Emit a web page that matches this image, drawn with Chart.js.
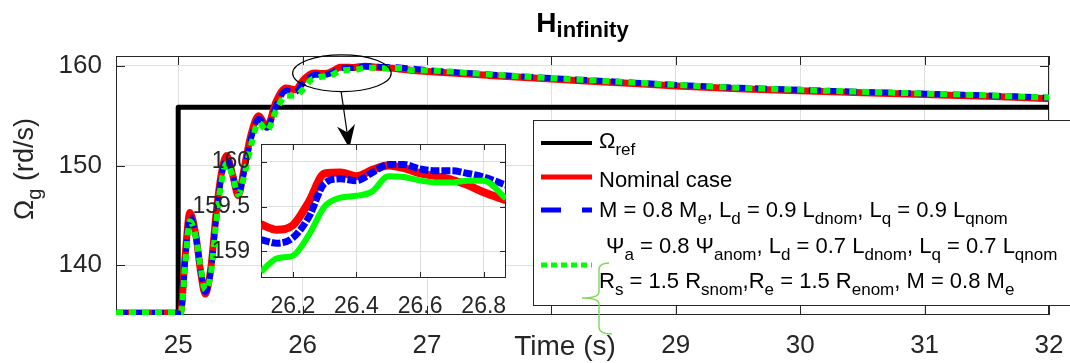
<!DOCTYPE html>
<html>
<head>
<meta charset="utf-8">
<script src="https://cdn.jsdelivr.net/npm/chart.js@4.4.0/dist/chart.umd.min.js"></script>
<style>
  html, body { margin: 0; padding: 0; background: #fff; }
  #wrap { position: relative; width: 1070px; height: 363px; overflow: hidden; }
  #main { position: absolute; left: 0; top: 0; }
  #zoom { position: absolute; left: 190px; top: 130px; }
</style>
</head>
<body>
<div id="wrap">
  <canvas id="main" width="1070" height="363"></canvas>
  <canvas id="zoom" width="330" height="190"></canvas>
</div>
<script>
const FONT = '"Liberation Sans", Arial, Helvetica, sans-serif';

// ---- values ----
const xTicks = [25, 26, 27, 28, 29, 30, 31, 32];
const yTicks = [140, 150, 160];
const zoomXTicks = [26.2, 26.4, 26.6, 26.8];
const zoomYTicks = [159, 159.5, 160];

// speed reference, step at t = 25 s
const refTime = [24.5, 25, 25, 32];
const refSpeed = [135.2, 135.2, 155.85, 155.85];

// start-up transient
const riseTime = [24.5, 25.0, 25.022, 25.056, 25.094, 25.142, 25.182, 25.217, 25.263, 25.303, 25.344, 25.389,
  25.437, 25.483, 25.531, 25.585, 25.647, 25.714, 25.786, 25.867, 25.942, 26.0, 26.067];
const nominalRise = [135.2, 135.2, 135.4, 141.0, 145.3, 143.0, 139.2, 137.1, 139.8, 145.0, 149.0, 151.0,
  149.1, 147.0, 149.8, 153.1, 155.0, 153.9, 156.4, 157.8, 157.6, 158.5, 159.2];
const case1Rise = [135.2, 135.2, 135.3, 140.6, 144.9, 142.9, 139.4, 137.3, 139.5, 144.6, 148.7, 150.7,
  149.1, 147.1, 149.5, 152.7, 154.7, 153.8, 156.0, 157.5, 157.4, 158.2, 158.95];
const case2Rise = [135.2, 135.2, 135.2, 140.0, 144.4, 142.8, 139.6, 137.5, 139.2, 144.0, 148.1, 150.2,
  149.0, 147.1, 149.0, 152.0, 154.3, 153.5, 155.5, 157.0, 157.0, 157.6, 158.6];

// plateau, as seen in the zoomed inset
const zoomTime = [26.1, 26.15, 26.2, 26.25, 26.3, 26.35, 26.4, 26.45, 26.5, 26.55, 26.6, 26.65, 26.7, 26.75, 26.8, 26.87];
const nominalZoom = [159.30, 159.24, 159.29, 159.55, 159.87, 159.88, 159.84, 159.91, 159.96, 159.93, 159.87, 159.84, 159.80, 159.74, 159.66, 159.57];
const case1Zoom = [159.13, 159.09, 159.15, 159.38, 159.76, 159.81, 159.79, 159.88, 159.97, 159.97, 159.92, 159.90, 159.90, 159.87, 159.83, 159.74];
const case2Zoom = [158.77, 158.92, 158.95, 159.18, 159.50, 159.60, 159.62, 159.67, 159.84, 159.83, 159.79, 159.77, 159.77, 159.79, 159.79, 159.59];

// slow decay afterwards
const tailTime = [27, 27.5, 28, 28.5, 29, 29.5, 30, 30.5, 31, 31.5, 32];
const nominalTail = [159.45, 159.05, 158.68, 158.35, 158.0, 157.72, 157.5, 157.3, 157.13, 156.95, 156.72];
const case1Tail = [159.58, 159.15, 158.78, 158.44, 158.1, 157.82, 157.6, 157.4, 157.22, 157.04, 156.82];
const case2Tail = [159.55, 159.14, 158.77, 158.44, 158.1, 157.82, 157.6, 157.4, 157.23, 157.05, 156.83];

const titleText = 'H_{infinity}';
const yLabel = 'Ω_{g} (rd/s)';
const xLabel = 'Time (s)';
const legendLabels = [
  'Ω_{ref}',
  'Nominal case',
  'M = 0.8 M_{e}, L_{d} = 0.9 L_{dnom}, L_{q} = 0.9 L_{qnom}',
  'Ψ_{a} = 0.8 Ψ_{anom}, L_{d} = 0.7 L_{dnom}, L_{q} = 0.7 L_{qnom}',
  'R_{s} = 1.5 R_{snom},R_{e} = 1.5 R_{enom}, M = 0.8 M_{e}'
];

function pts(t, v) { return t.map((x, i) => ({ x: x, y: v[i] })); }

// text with _{...} subscripts
function richParts(str) {
  const parts = [];
  const re = /_\{([^}]*)\}/g;
  let last = 0, m;
  while ((m = re.exec(str))) {
    if (m.index > last) parts.push({ t: str.slice(last, m.index), sub: false });
    parts.push({ t: m[1], sub: true });
    last = re.lastIndex;
  }
  if (last < str.length) parts.push({ t: str.slice(last), sub: false });
  return parts;
}
function drawRich(ctx, str, x, y, size, o) {
  o = o || {};
  const subSize = Math.round(size * (o.subScale || 0.75));
  const drop = o.drop != null ? o.drop : size * 0.3;
  const w = o.bold ? 'bold ' : '';
  let cx = x;
  for (const p of richParts(str)) {
    ctx.font = w + (p.sub ? subSize : size) + 'px ' + FONT;
    if (!o.measure) ctx.fillText(p.t, cx, p.sub ? y + drop : y);
    cx += ctx.measureText(p.t).width;
  }
  return cx - x;
}

// keep the plot box where we put it, labels may overhang
function fixSize(prop, val) {
  return s => {
    s[prop] = val;
    s.paddingLeft = s.paddingRight = s.paddingTop = s.paddingBottom = 0;
  };
}

// matlab-like box with inward ticks
function framePlugin(tickLen, whiteArea) {
  return {
    id: 'frame',
    beforeDraw(chart) {
      if (!whiteArea) return;
      const a = chart.chartArea, ctx = chart.ctx;
      ctx.save();
      ctx.fillStyle = '#fff';
      ctx.fillRect(a.left, a.top, a.right - a.left, a.bottom - a.top);
      ctx.restore();
    },
    beforeDatasetsDraw(chart) {
      const { ctx, chartArea: a, scales: { x, y } } = chart;
      ctx.save();
      ctx.strokeStyle = '#262626';
      ctx.lineWidth = 1;
      ctx.strokeRect(a.left + 0.5, a.top + 0.5, a.right - a.left - 1, a.bottom - a.top - 1);
      ctx.beginPath();
      x.ticks.forEach(t => {
        const px = Math.round(x.getPixelForValue(t.value)) + 0.5;
        ctx.moveTo(px, a.bottom); ctx.lineTo(px, a.bottom - tickLen);
        ctx.moveTo(px, a.top); ctx.lineTo(px, a.top + tickLen);
      });
      y.ticks.forEach(t => {
        const py = Math.round(y.getPixelForValue(t.value)) + 0.5;
        ctx.moveTo(a.left, py); ctx.lineTo(a.left + tickLen, py);
        ctx.moveTo(a.right, py); ctx.lineTo(a.right - tickLen, py);
      });
      ctx.stroke();
      ctx.restore();
    }
  };
}

const overlay = {
  id: 'overlay',
  afterDraw(chart) {
    const { ctx, chartArea: a, scales: { x, y } } = chart;
    const ds = chart.data.datasets;
    ctx.save();
    ctx.fillStyle = '#000';
    ctx.textBaseline = 'alphabetic';
    ctx.textAlign = 'left';

    // title
    const tw = drawRich(ctx, titleText, 0, 0, 28, { bold: true, measure: true, subScale: 0.78 });
    drawRich(ctx, titleText, (a.left + a.right) / 2 - tw / 2, 32, 28, { bold: true, subScale: 0.78, drop: 5 });

    // axis labels
    ctx.fillStyle = '#262626';
    ctx.save();
    ctx.translate(33, 169);
    ctx.rotate(-Math.PI / 2);
    const yw = drawRich(ctx, yLabel, 0, 0, 27, { measure: true });
    drawRich(ctx, yLabel, -yw / 2, 0, 27);
    ctx.restore();
    ctx.font = '28px ' + FONT;
    ctx.textAlign = 'center';
    ctx.fillText(xLabel, 565, 355);
    ctx.textAlign = 'left';

    // zoom ellipse + arrow
    const ex = x.getPixelForValue(26.316), ey = y.getPixelForValue(159.27);
    const rx = x.getPixelForValue(26.316 + 0.396) - ex, ry = y.getPixelForValue(159.27 - 1.84) - ey;
    ctx.strokeStyle = '#000';
    ctx.lineWidth = 1.2;
    ctx.beginPath();
    ctx.ellipse(ex, ey, rx, ry, 0, 0, Math.PI * 2);
    ctx.stroke();
    const sx = x.getPixelForValue(26.31), sy = y.getPixelForValue(157.4);
    const tx = x.getPixelForValue(26.376), ty = y.getPixelForValue(151.75);
    const ang = Math.atan2(ty - sy, tx - sx);
    ctx.beginPath();
    ctx.moveTo(sx, sy);
    ctx.lineTo(tx - 12 * Math.cos(ang), ty - 12 * Math.sin(ang));
    ctx.stroke();
    ctx.fillStyle = '#000';
    ctx.beginPath();
    ctx.moveTo(tx, ty);
    ctx.lineTo(tx - 23 * Math.cos(ang) + 9 * Math.sin(ang), ty - 23 * Math.sin(ang) - 9 * Math.cos(ang));
    ctx.lineTo(tx - 16 * Math.cos(ang), ty - 16 * Math.sin(ang));
    ctx.lineTo(tx - 23 * Math.cos(ang) - 9 * Math.sin(ang), ty - 23 * Math.sin(ang) + 9 * Math.cos(ang));
    ctx.closePath();
    ctx.fill();

    // legend
    const L = { x: 533, y: 120, w: 545, h: 185 };
    ctx.fillStyle = '#fff';
    ctx.fillRect(L.x, L.y, L.w, L.h);
    ctx.strokeStyle = '#262626';
    ctx.lineWidth = 1;
    ctx.strokeRect(L.x + 0.5, L.y + 0.5, L.w, L.h);

    const sampleY = [143, 177, 210, 265];
    const sampleW = [4, 5, 5, 5];
    const sampleDash = [[], [], [20, 21], [6, 4]];
    const entryDs = [3, 2, 1, 0]; // ref, nominal, case1, case2
    entryDs.forEach((di, i) => {
      ctx.save();
      ctx.strokeStyle = ds[di].borderColor;
      ctx.lineWidth = sampleW[i];
      ctx.setLineDash(sampleDash[i]);
      ctx.beginPath();
      ctx.moveTo(541, sampleY[i]);
      ctx.lineTo(592, sampleY[i]);
      ctx.stroke();
      ctx.restore();
    });
    const textX = [599, 599, 599, 606, 599];
    const textY = [148, 187, 217, 253, 288];
    ctx.fillStyle = '#000';
    legendLabels.forEach((lab, i) => drawRich(ctx, lab, textX[i], textY[i], 22, { subScale: 0.75, drop: 7 }));

    // brace grouping the two lines of the last entry
    ctx.strokeStyle = '#7ed957';
    ctx.lineWidth = 1.4;
    ctx.beginPath();
    ctx.moveTo(609, 263);
    ctx.quadraticCurveTo(599, 263, 599, 270);
    ctx.lineTo(599, 292);
    ctx.quadraticCurveTo(599, 298, 582, 298);
    ctx.quadraticCurveTo(599, 298, 599, 304);
    ctx.lineTo(599, 327);
    ctx.quadraticCurveTo(599, 334, 612, 334);
    ctx.stroke();

    ctx.restore();
  }
};

const tickFont = { family: FONT, size: 26 };

new Chart(document.getElementById('main'), {
  type: 'line',
  data: {
    datasets: [
      { data: pts(riseTime.concat(zoomTime, tailTime), case2Rise.concat(case2Zoom, case2Tail)),
        borderColor: '#00ff00', borderWidth: 6, borderDash: [7, 6], cubicInterpolationMode: 'monotone' },
      { data: pts(riseTime.concat(zoomTime, tailTime), case1Rise.concat(case1Zoom, case1Tail)),
        borderColor: '#0000ff', borderWidth: 6, borderDash: [12, 6], cubicInterpolationMode: 'monotone' },
      { data: pts(riseTime.concat(zoomTime, tailTime), nominalRise.concat(nominalZoom, nominalTail)),
        borderColor: '#ff0000', borderWidth: 7, cubicInterpolationMode: 'monotone' },
      { data: pts(refTime, refSpeed), borderColor: '#000000', borderWidth: 5, tension: 0 }
    ]
  },
  options: {
    responsive: false,
    animation: false,
    devicePixelRatio: 1,
    layout: { padding: { left: 0, right: 21, top: 56, bottom: 0 } },
    elements: { point: { radius: 0 }, line: { borderJoinStyle: 'round' } },
    plugins: { legend: { display: false }, tooltip: { enabled: false } },
    scales: {
      x: {
        type: 'linear', min: 24.5, max: 32,
        afterBuildTicks: s => { s.ticks = xTicks.map(v => ({ value: v })); },
        afterFit: fixSize('height', 48),
        grid: { color: '#dfdfdf', drawTicks: false },
        border: { display: false },
        ticks: { font: tickFont, color: '#262626', padding: 15, autoSkip: false, maxRotation: 0,
          callback: v => (v === 28 ? '' : String(v)) }
      },
      y: {
        type: 'linear', min: 135, max: 161,
        afterBuildTicks: s => { s.ticks = yTicks.map(v => ({ value: v })); },
        afterFit: fixSize('width', 116),
        grid: { color: '#dfdfdf', drawTicks: false },
        border: { display: false },
        ticks: { font: tickFont, color: '#262626', padding: 14, autoSkip: false, callback: v => String(v) }
      }
    }
  },
  plugins: [framePlugin(9, false), overlay]
});

const zoomFont = { family: FONT, size: 23 };

new Chart(document.getElementById('zoom'), {
  type: 'line',
  data: {
    datasets: [
      { data: pts(zoomTime, case2Zoom), borderColor: '#00ff00', borderWidth: 6, cubicInterpolationMode: 'monotone' },
      { data: pts(zoomTime, case1Zoom), borderColor: '#0000ff', borderWidth: 7, borderDash: [9, 2], cubicInterpolationMode: 'monotone' },
      { data: pts(zoomTime, nominalZoom), borderColor: '#ff0000', borderWidth: 8, cubicInterpolationMode: 'monotone' }
    ]
  },
  options: {
    responsive: false,
    animation: false,
    devicePixelRatio: 1,
    layout: { padding: { left: 0, right: 14, top: 14, bottom: 0 } },
    elements: { point: { radius: 0 }, line: { borderJoinStyle: 'round' } },
    plugins: { legend: { display: false }, tooltip: { enabled: false } },
    scales: {
      x: {
        type: 'linear', min: 26.1, max: 26.87,
        afterBuildTicks: s => { s.ticks = zoomXTicks.map(v => ({ value: v })); },
        afterFit: fixSize('height', 42),
        grid: { color: '#dfdfdf', drawTicks: false },
        border: { display: false },
        ticks: { font: zoomFont, color: '#262626', padding: 15, autoSkip: false, maxRotation: 0, callback: v => String(v) }
      },
      y: {
        type: 'linear', min: 158.7, max: 160.2,
        afterBuildTicks: s => { s.ticks = zoomYTicks.map(v => ({ value: v })); },
        afterFit: fixSize('width', 71),
        grid: { color: '#dfdfdf', drawTicks: false },
        border: { display: false },
        ticks: { font: zoomFont, color: '#262626', padding: 11, autoSkip: false, callback: v => String(v) }
      }
    }
  },
  plugins: [framePlugin(6, true)]
});
</script>
</body>
</html>
